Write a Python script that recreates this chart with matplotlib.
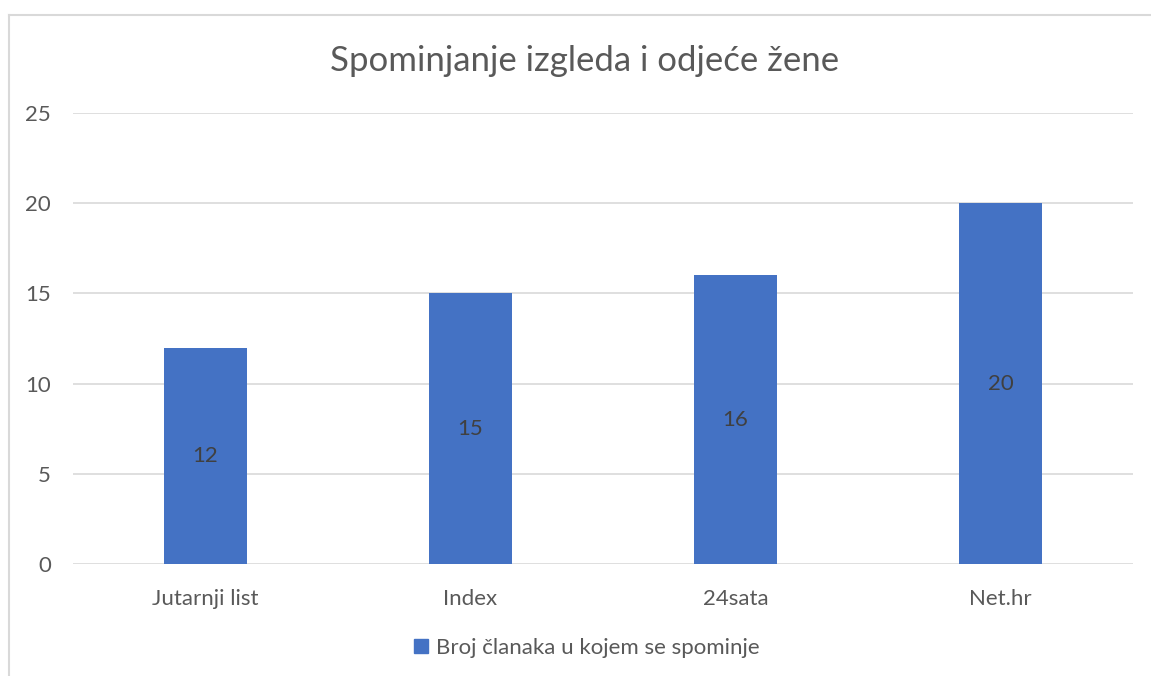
import matplotlib
matplotlib.use("Agg")
import matplotlib.pyplot as plt
from matplotlib.lines import Line2D

categories = ["Jutarnji list", "Index", "24sata", "Net.hr"]
values = [12, 15, 16, 20]
series_name = "Broj članaka u kojem se spominje"
title = "Spominjanje izgleda i odjeće žene"
yticks = [0, 5, 10, 15, 20, 25]

plt.rcParams['font.family'] = ['Lato', 'DejaVu Sans']
TXT = "#595959"
BAR = "#4472C4"
GRID = "#D9D9D9"

fig = plt.figure(figsize=(11.51, 6.76), dpi=100)
ax = fig.add_axes([73/1151, 1-564/676, (1133-73)/1151, (564-113)/676])

x = list(range(len(categories)))
ax.bar(x, values, width=0.313, color=BAR, zorder=3)
for xi, v in zip(x, values):
    ax.text(xi, v/2, str(v), ha="center", va="center", fontsize=16, color="#404040", zorder=4)

ax.set_xlim(-0.5, len(categories)-0.5)
ax.set_ylim(0, 25)
ax.set_yticks(yticks)
ax.set_yticklabels([str(t) for t in yticks], fontsize=16, color=TXT)
ax.set_xticks(x)
ax.set_xticklabels(categories, fontsize=16, color=TXT)
ax.tick_params(axis="both", length=0)
ax.tick_params(axis="y", pad=16)
ax.tick_params(axis="x", pad=18)
ax.grid(axis="y", color=GRID, linewidth=1.2, zorder=0)
for s in ax.spines.values():
    s.set_visible(False)

fig.text(585/1151, 1-61/676, title, ha="center", va="center", fontsize=25, color=TXT)

handles = [Line2D([0], [0], marker="s", linestyle="none", markersize=10,
                  markerfacecolor=BAR, markeredgecolor=BAR)]
fig.legend(handles, [series_name], loc="center", bbox_to_anchor=(579/1151, 1-648/676),
           frameon=False, fontsize=16, handletextpad=-0.35, labelcolor=TXT)

# chart border (left and top visible)
fig.add_artist(Line2D([8.5/1151, 8.5/1151], [0, 1-14.5/676], transform=fig.transFigure, color="#D9D9D9", linewidth=1.5))
fig.add_artist(Line2D([8.5/1151, 1], [1-14.5/676, 1-14.5/676], transform=fig.transFigure, color="#D9D9D9", linewidth=1.5))

fig.savefig("out.png", dpi=100)
